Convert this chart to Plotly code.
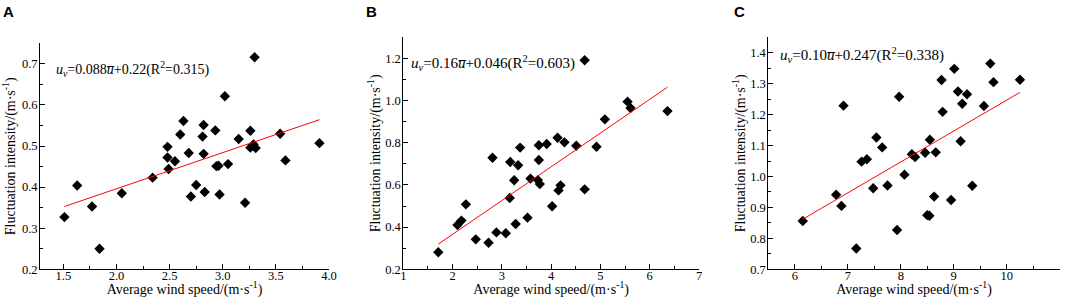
import plotly.graph_objects as go

# ---------------- data ----------------
a_speed = [1.51, 1.63, 1.77, 1.84, 2.05, 2.34, 2.48, 2.48, 2.49, 2.55, 2.60, 2.63, 2.68, 2.70,
           2.75, 2.81, 2.82, 2.82, 2.83, 2.93, 2.94, 2.96, 2.97, 3.02, 3.05, 3.15, 3.21, 3.26,
           3.26, 3.28, 3.29, 3.31, 3.30, 3.54, 3.59, 3.91]
a_fluct = [0.327, 0.404, 0.353, 0.250, 0.385, 0.423, 0.498, 0.472, 0.444, 0.463, 0.528, 0.561,
           0.483, 0.377, 0.405, 0.523, 0.551, 0.481, 0.388, 0.538, 0.451, 0.452, 0.382, 0.621,
           0.456, 0.517, 0.362, 0.537, 0.496, 0.501, 0.504, 0.495, 0.716, 0.530, 0.465, 0.507]

b_speed = [1.71, 2.10, 2.18, 2.27, 2.47, 2.73, 2.81, 2.89, 3.08, 3.16, 3.17, 3.25, 3.28, 3.33,
           3.37, 3.52, 3.58, 3.73, 3.75, 3.75, 3.77, 3.91, 4.02, 4.13, 4.15, 4.19, 4.27, 4.51,
           4.68, 4.68, 4.92, 5.09, 5.55, 5.61, 6.36]
b_fluct = [0.281, 0.410, 0.431, 0.508, 0.342, 0.326, 0.729, 0.375, 0.371, 0.538, 0.709, 0.622,
           0.415, 0.693, 0.777, 0.445, 0.630, 0.623, 0.788, 0.718, 0.604, 0.794, 0.499, 0.824,
           0.574, 0.598, 0.802, 0.786, 0.579, 1.191, 0.781, 0.911, 0.995, 0.965, 0.950]

c_speed = [6.15, 6.78, 6.88, 6.92, 7.16, 7.26, 7.36, 7.48, 7.54, 7.65, 7.75, 7.93, 7.97, 8.07,
           8.21, 8.27, 8.46, 8.50, 8.54, 8.55, 8.63, 8.66, 8.77, 8.79, 8.95, 9.01, 9.08, 9.13,
           9.16, 9.25, 9.35, 9.57, 9.69, 9.75, 10.25]
c_fluct = [0.856, 0.941, 0.905, 1.229, 0.767, 1.048, 1.056, 0.962, 1.126, 1.094, 0.971, 0.827,
           1.258, 1.006, 1.072, 1.063, 1.077, 0.875, 0.873, 1.119, 0.935, 1.078, 1.312, 1.209,
           0.924, 1.348, 1.275, 1.114, 1.235, 1.266, 0.970, 1.228, 1.365, 1.305, 1.313]

# regression coefficients (slope, intercept) as printed
fit_slope = [0.088, 0.16, 0.10]
fit_intercept = [0.22, 0.046, 0.247]
equations = [
    "<i>u</i><sub><i>v</i></sub>=0.088<i>u\u0305</i>+0.22(R<sup>2</sup>=0.315)",
    "<i>u</i><sub><i>v</i></sub>=0.16<i>u\u0305</i>+0.046(R<sup>2</sup>=0.603)",
    "<i>u</i><sub><i>v</i></sub>=0.10<i>u\u0305</i>+0.247(R<sup>2</sup>=0.338)",
]
panel_letters = ["A", "B", "C"]

x_ranges = [[1.28, 4.0], [1, 7], [5.5, 11]]
y_ranges = [[0.2, 0.75], [0.2, 1.3], [0.7, 1.45]]
x_dticks = [0.5, 1, 1]
y_dticks = [0.1, 0.2, 0.1]
x_fmt = [".1f", "d", "d"]
y_fmt = [".1f", ".1f", ".1f"]

# ---------------- layout ----------------
W, H = 1065, 298
x_dom = [[40 / W, 329 / W], [403.3 / W, 699 / W], [768.3 / W, 1059.7 / W]]
y_dom = [[28.7 / H, 254.7 / H], [28.7 / H, 260.7 / H], [28.7 / H, 260.7 / H]]
letter_x = [1, 364, 732]
eq_pos = [(54, 69), (409, 63), (778, 55)]
eq_size = [14, 15, 15]
ytitle_standoff = [6, 1, 1]

SERIF = "Liberation Serif"

fig = go.Figure()
datasets = [(a_speed, a_fluct), (b_speed, b_fluct), (c_speed, c_fluct)]

for i, (xs, ys) in enumerate(datasets):
    sfx = "" if i == 0 else str(i + 1)
    fig.add_trace(go.Scatter(
        x=xs, y=ys, mode="markers",
        marker=dict(symbol="diamond", size=8, color="black"),
        xaxis="x" + sfx, yaxis="y" + sfx, showlegend=False,
    ))
    xmin, xmax = min(xs), max(xs)
    fig.add_trace(go.Scatter(
        x=[xmin, xmax],
        y=[fit_slope[i] * xmin + fit_intercept[i], fit_slope[i] * xmax + fit_intercept[i]],
        mode="lines", line=dict(color="red", width=1),
        xaxis="x" + sfx, yaxis="y" + sfx, showlegend=False,
    ))

    common = dict(
        showline=True, linecolor="black", linewidth=1, mirror=False,
        showgrid=False, zeroline=False,
        ticks="inside", ticklen=5, tickwidth=1, tickcolor="black",
        tickfont=dict(family=SERIF, size=12.5, color="black"),
    )
    fig.layout["xaxis" + sfx] = dict(
        domain=x_dom[i], range=x_ranges[i], anchor="y" + sfx,
        dtick=x_dticks[i], tick0=0, tickformat=x_fmt[i],
        ticklabelstandoff=-5,
        minor=dict(ticks="inside", ticklen=3, dtick=x_dticks[i] / 2, tickcolor="black"),
        title=dict(text="Average wind speed/(m·s<sup>-1</sup>)",
                   font=dict(family=SERIF, size=14, color="black"), standoff=1),
        **common,
    )
    fig.layout["yaxis" + sfx] = dict(
        domain=y_dom[i], range=y_ranges[i], anchor="x" + sfx,
        dtick=y_dticks[i], tick0=0, tickformat=y_fmt[i],
        ticklabelstandoff=-1,
        minor=dict(ticks="inside", ticklen=3, dtick=y_dticks[i] / 2, tickcolor="black"),
        title=dict(text="Fluctuation intensity/(m·s<sup>-1</sup>)",
                   font=dict(family=SERIF, size=14, color="black"),
                   standoff=ytitle_standoff[i]),
        **common,
    )

    fig.add_annotation(
        text=panel_letters[i], xref="paper", yref="paper",
        x=letter_x[i] / W, y=1 - 1 / H, xanchor="left", yanchor="top",
        showarrow=False,
        font=dict(family="Liberation Sans Narrow, Liberation Sans, Arial, sans-serif",
                  size=15, color="black", weight="bold"),
    )
    fig.add_annotation(
        text=equations[i], xref="paper", yref="paper",
        x=eq_pos[i][0] / W, y=1 - eq_pos[i][1] / H, xanchor="left", yanchor="middle",
        showarrow=False,
        font=dict(family=SERIF, size=eq_size[i], color="black"),
    )

fig.update_layout(
    width=W, height=H,
    margin=dict(l=0, r=0, t=0, b=0, autoexpand=False),
    paper_bgcolor="white", plot_bgcolor="white",
)

fig.write_html(
    "out.html",
    config={"displayModeBar": False},
    post_script="document.body.style.margin='0';document.body.style.padding='0';",
)
